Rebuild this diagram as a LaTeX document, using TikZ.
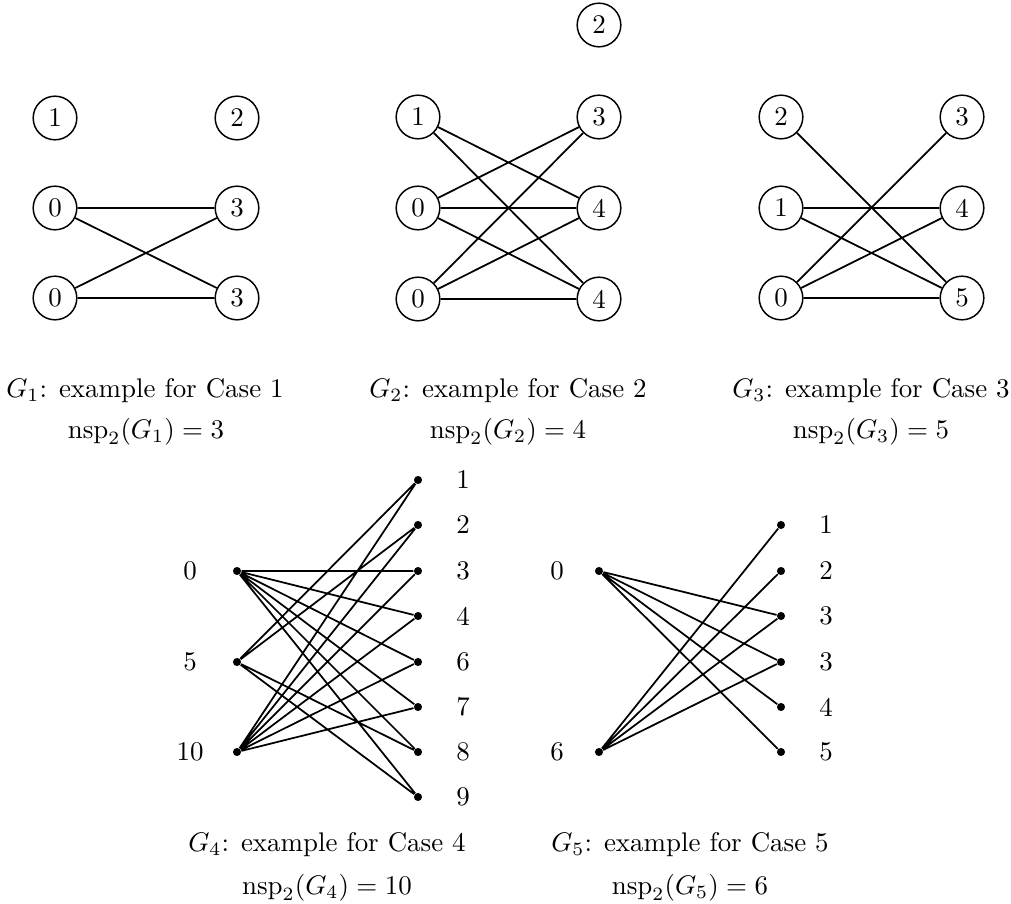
\documentclass[tikz,border=0pt]{standalone}
\begin{document}
\begin{tikzpicture}[x=0.01304cm,y=-0.01304cm,
  vtx/.style={circle,draw,line width=0.55pt,minimum size=16.2pt,inner sep=0pt},
  dotv/.style={circle,fill,minimum size=3pt,inner sep=0pt},
  edge/.style={line width=0.65pt},
  lbl/.style={inner sep=0pt},
  captext/.style={anchor=base,inner sep=0pt}]
\useasboundingbox (0,0) rectangle (1011,904);
% ---------- G1 ----------
\node[vtx] (a1) at (55,118) {1};
\node[vtx] (a2) at (237,118) {2};
\node[vtx] (a0t) at (55,208) {0};
\node[vtx] (a3t) at (237,208) {3};
\node[vtx] (a0b) at (55,298) {0};
\node[vtx] (a3b) at (237,298) {3};
\draw[edge] (a0t)--(a3t) (a0t)--(a3b) (a0b)--(a3t) (a0b)--(a3b);
\node[captext] (c1) at (145,397) {$G_1$: example for Case 1};
\node[captext] (n1) at (146,438) {$\mathrm{nsp}_2(G_1) = 3$};
% ---------- G2 ----------
\node[vtx] (b2) at (599,25) {2};
\node[vtx] (b1) at (418,117) {1};
\node[vtx] (b3) at (599,117) {3};
\node[vtx] (b0m) at (418,208) {0};
\node[vtx] (b4m) at (599,208) {4};
\node[vtx] (b0b) at (418,299) {0};
\node[vtx] (b4b) at (599,299) {4};
\draw[edge] (b1)--(b4m) (b1)--(b4b)
  (b0m)--(b3) (b0m)--(b4m) (b0m)--(b4b)
  (b0b)--(b3) (b0b)--(b4m) (b0b)--(b4b);
\node[captext] (c2) at (508,397) {$G_2$: example for Case 2};
\node[captext] (n2) at (508,438) {$\mathrm{nsp}_2(G_2) = 4$};
% ---------- G3 ----------
\node[vtx] (d2) at (781,117) {2};
\node[vtx] (d3) at (962,117) {3};
\node[vtx] (d1) at (781,208) {1};
\node[vtx] (d4) at (962,208) {4};
\node[vtx] (d0) at (781,298) {0};
\node[vtx] (d5) at (962,298) {5};
\draw[edge] (d2)--(d5) (d1)--(d4) (d1)--(d5)
  (d0)--(d3) (d0)--(d4) (d0)--(d5);
\node[captext] (c3) at (871,397) {$G_3$: example for Case 3};
\node[captext] (n3) at (871,438) {$\mathrm{nsp}_2(G_3) = 5$};
% ---------- G4 ----------
\node[dotv] (e0) at (237,571) {};
\node[dotv] (e5) at (237,662) {};
\node[dotv] (e10) at (237,752) {};
\node[lbl] (le0) at (190,571) {0};
\node[lbl] (le5) at (190,662) {5};
\node[lbl] (le10) at (190,752) {10};
\foreach \n/\y in {1/480,2/525,3/571,4/616,6/662,7/707,8/752,9/797}{
  \node[dotv] (f\n) at (418,\y) {};
  \node[lbl] (lf\n) at (463,\y) {\n};
}
\draw[edge] (e0)--(f3) (e0)--(f4) (e0)--(f6) (e0)--(f7) (e0)--(f8) (e0)--(f9)
  (e5)--(f1) (e5)--(f2) (e5)--(f8) (e5)--(f9)
  (e10)--(f1) (e10)--(f2) (e10)--(f3) (e10)--(f4) (e10)--(f6) (e10)--(f7);
\node[captext] (c4) at (327,851) {$G_4$: example for Case 4};
\node[captext] (n4) at (327,894) {$\mathrm{nsp}_2(G_4) = 10$};
% ---------- G5 ----------
\node[dotv] (g0) at (599,571) {};
\node[dotv] (g6) at (599,752) {};
\node[lbl] (lg0) at (557,571) {0};
\node[lbl] (lg6) at (557,752) {6};
\foreach \k/\t/\y in {1/1/525,2/2/571,3/3/616,4/3/662,5/4/707,6/5/752}{
  \node[dotv] (h\k) at (781,\y) {};
  \node[lbl] (lh\k) at (826,\y) {\t};
}
\draw[edge] (g0)--(h3) (g0)--(h4) (g0)--(h5) (g0)--(h6)
  (g6)--(h1) (g6)--(h2) (g6)--(h3) (g6)--(h4);
\node[captext] (c5) at (690,851) {$G_5$: example for Case 5};
\node[captext] (n5) at (690,894) {$\mathrm{nsp}_2(G_5) = 6$};
\end{tikzpicture}
\end{document}
